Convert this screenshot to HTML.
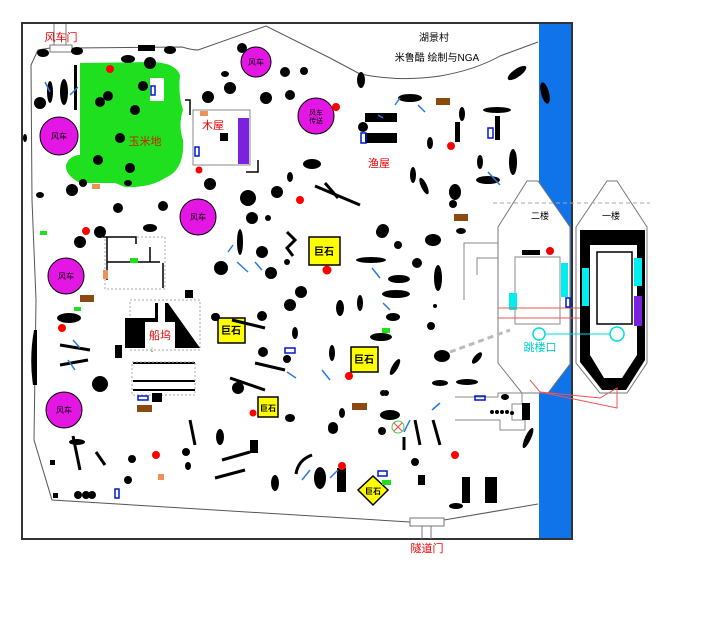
<!DOCTYPE html>
<html><head><meta charset="utf-8"><style>
html,body{margin:0;padding:0;background:#fff;width:720px;height:627px;overflow:hidden}
svg{display:block}
text{font-family:"Liberation Sans","Noto Sans CJK SC",sans-serif}
</style></head><body>
<svg width="720" height="627" viewBox="0 0 720 627" xmlns="http://www.w3.org/2000/svg">
<!-- river -->
<rect x="539" y="23" width="32" height="516" fill="#0f73ea"/>
<!-- frame -->
<rect x="22" y="23" width="550" height="516" fill="none" stroke="#333" stroke-width="2"/>
<!-- outer boundary -->
<polyline points="50,48 38,50 31,65 32,200 36,300 34,440 52,500 410,522" fill="none" stroke="#555" stroke-width="1"/>
<polyline points="444,520 538,504" fill="none" stroke="#555" stroke-width="1"/>
<path d="M72,48 L182,47 Q192,50 198,50 L266,26 L330,58 L360,74 Q400,82 440,76 Q475,70 500,56 L538,42" fill="none" stroke="#555" stroke-width="1"/>
<!-- gates -->
<rect x="50" y="45" width="22" height="7" fill="#fff" stroke="#777"/>
<line x1="54" y1="24" x2="54" y2="45" stroke="#777"/><line x1="66" y1="24" x2="66" y2="45" stroke="#777"/>
<text x="61" y="41" font-size="11" fill="#e00" text-anchor="middle">风车门</text>
<rect x="410" y="518" width="34" height="8" fill="#fff" stroke="#777"/>
<line x1="422" y1="526" x2="422" y2="539" stroke="#777"/><line x1="431" y1="526" x2="431" y2="539" stroke="#777"/>
<text x="427" y="552" font-size="11" fill="#e00" text-anchor="middle">隧道门</text>
<!-- title -->
<text x="434" y="41" font-size="10" fill="#000" text-anchor="middle">湖景村</text>
<text x="437" y="61" font-size="10" fill="#000" text-anchor="middle">米鲁酷  绘制与NGA</text>
<!-- corn field -->
<path d="M80,63 L150,62 Q175,62 180,75 Q178,95 183,110 Q178,125 183,140 Q185,170 165,178 Q150,188 125,187 L115,183 L80,183 Q65,175 66,165 Q70,155 80,155 Z" fill="#1ee01e"/>
<rect x="150" y="78" width="14" height="23" fill="#fff"/>
<text x="145" y="145" font-size="11" fill="#d02000" text-anchor="middle">玉米地</text>
<!-- wood house -->
<path d="M193,110 L250,110 L250,165 L193,165 Z" fill="#fff" stroke="#888"/>
<rect x="238" y="118" width="11" height="46" fill="#7a22dd"/>
<rect x="220" y="133" width="8" height="8" fill="#000"/>
<text x="213" y="129" font-size="11" fill="#e00" text-anchor="middle">木屋</text>
<polyline points="185,100 190,100 190,115" fill="none" stroke="#000" stroke-width="1.5"/>
<polyline points="246,172 258,172 258,160" fill="none" stroke="#000" stroke-width="1.5"/>
<!-- fishing house -->
<rect x="365" y="113" width="32" height="9" fill="#000"/>
<rect x="365" y="133" width="32" height="10" fill="#000"/>
<text x="379" y="167" font-size="11" fill="#e00" text-anchor="middle">渔屋</text>
<!-- windmills -->
<g fill="#e416e4" stroke="#000" stroke-width="1">
<circle cx="59" cy="136" r="19"/><circle cx="256" cy="62" r="15"/><circle cx="316" cy="116" r="18"/>
<circle cx="198" cy="217" r="18"/><circle cx="66" cy="276" r="18"/><circle cx="64" cy="410" r="18"/>
</g>
<g font-size="8" fill="#000" text-anchor="middle">
<text x="59" y="139">风车</text><text x="256" y="65">风车</text><text x="316" y="115" font-size="7">风车</text><text x="316" y="123" font-size="7">传送</text>
<text x="198" y="220">风车</text><text x="66" y="279">风车</text><text x="64" y="413">风车</text>
</g>
<!-- boat dock -->
<rect x="130" y="300" width="70" height="50" fill="none" stroke="#aaa" stroke-dasharray="2,2"/>
<path d="M125,318 L155,318 L155,303 L158,303 L158,322 L145,322 L145,348 L125,348 Z" fill="#000"/>
<path d="M165,303 L168,303 L200,348 L175,348 L175,322 L165,322 Z" fill="#000"/>
<text x="160" y="339" font-size="11" fill="#e00" text-anchor="middle">船坞</text>
<text x="152" y="352" font-size="9" fill="#2a2" text-anchor="middle">↓</text>
<g stroke="#000" stroke-width="2" fill="none">
<line x1="133" y1="363" x2="195" y2="363"/><line x1="133" y1="381" x2="195" y2="381"/>
<line x1="133" y1="390" x2="195" y2="390"/>
</g>
<rect x="132" y="362" width="63" height="33" fill="none" stroke="#aaa" stroke-dasharray="2,2"/>
<!-- upper-left small structure -->
<rect x="105" y="237" width="60" height="52" fill="none" stroke="#aaa" stroke-dasharray="2,2"/>
<g stroke="#000" stroke-width="1.5" fill="none">
<polyline points="103,237 136,237 136,244"/><polyline points="107,262 160,262"/><line x1="107" y1="237" x2="107" y2="280"/>
<line x1="163" y1="263" x2="163" y2="288"/><polyline points="150,247 150,262"/>
</g>
<!-- boats -->
<path d="M527,181 L538,181 L570,227 L570,364 L548,393 L522,393 L498,363 L498,227 Z" fill="#fff" stroke="#777"/>
<path d="M607,181 L617,181 L647,227 L647,363 L627,393 L600,393 L576,363 L576,227 Z" fill="#fff" stroke="#777"/>
<path d="M580,230 L645,230 L645,360 L626,390 L602,390 L580,362 Z M590,245 L590,355 L604,378 L622,378 L637,355 L637,245 Z" fill="#000" fill-rule="evenodd"/>
<rect x="597" y="252" width="35" height="72" fill="#fff" stroke="#000" stroke-width="1.5"/>
<rect x="582" y="268" width="7" height="38" fill="#0ee"/>
<rect x="634" y="258" width="8" height="28" fill="#0ee"/>
<rect x="634" y="296" width="8" height="30" fill="#7a22dd"/>
<line x1="493" y1="203" x2="650" y2="203" stroke="#aaa" stroke-dasharray="4,3"/>
<text x="540" y="219" font-size="9" fill="#000" text-anchor="middle">二楼</text>
<text x="611" y="219" font-size="9" fill="#000" text-anchor="middle">一楼</text>
<rect x="515" y="257" width="45" height="67" fill="#fff" stroke="#888"/>
<rect x="509" y="293" width="8" height="17" fill="#0ee"/>
<rect x="561" y="263" width="7" height="34" fill="#0ee"/>
<rect x="522" y="250" width="18" height="5" fill="#000"/>
<circle cx="550" cy="251" r="4" fill="#e00"/>
<line x1="498" y1="308" x2="580" y2="308" stroke="#e55"/><line x1="498" y1="318" x2="580" y2="318" stroke="#e55"/>
<polyline points="530,380 540,392 600,398 617,388 617,408 540,392" fill="none" stroke="#e55"/>
<polyline points="464,300 464,243 498,243" fill="none" stroke="#888"/>
<polyline points="477,275 477,258 498,258" fill="none" stroke="#888"/>
<circle cx="539" cy="334" r="6" fill="none" stroke="#0dd" stroke-width="1.5"/>
<line x1="545" y1="334" x2="610" y2="334" stroke="#0dd"/>
<circle cx="617" cy="334" r="7" fill="none" stroke="#0dd" stroke-width="1.5"/>
<text x="540" y="351" font-size="11" fill="#0cc" text-anchor="middle">跳楼口</text>
<line x1="450" y1="352" x2="510" y2="330" stroke="#bbb" stroke-width="3" stroke-dasharray="6,4"/>
<polyline points="455,397 498,397 498,393 522,393 522,404 512,404 512,420 525,420 525,430 500,430 500,420 455,420" fill="none" stroke="#888"/>
<!-- boulders -->
<g fill="#ff0" stroke="#000" stroke-width="1.5">
<rect x="309" y="237" width="31" height="28"/><rect x="218" y="318" width="27" height="25"/>
<rect x="351" y="347" width="27" height="25"/><rect x="258" y="397" width="20" height="20"/>
<polygon points="373,476 388,490 373,505 358,490"/>
</g>
<g font-size="10" fill="#000" text-anchor="middle" font-weight="bold">
<text x="324" y="255">巨石</text><text x="231" y="334">巨石</text><text x="364" y="363">巨石</text>
<text x="268" y="411" font-size="8">巨石</text><text x="373" y="494" font-size="8">巨石</text>
</g>
<!-- blobs -->
<g fill="#000">
<ellipse cx="43" cy="53" rx="6" ry="4"/><ellipse cx="77" cy="51" rx="6" ry="4"/><rect x="138" y="45" width="17" height="6"/>
<ellipse cx="170" cy="50" rx="6" ry="4"/><ellipse cx="128" cy="59" rx="7" ry="4"/><circle cx="150" cy="63" r="6"/>
<ellipse cx="50" cy="92" rx="3" ry="11"/><ellipse cx="64" cy="92" rx="4" ry="13"/><rect x="74" y="65" width="3" height="45"/>
<circle cx="40" cy="103" r="6"/><ellipse cx="25" cy="138" rx="2" ry="4"/>
<circle cx="108" cy="96" r="5"/><circle cx="100" cy="102" r="5"/><circle cx="135" cy="110" r="5"/><circle cx="120" cy="138" r="5"/>
<circle cx="98" cy="160" r="5"/><circle cx="130" cy="168" r="5"/><circle cx="143" cy="86" r="5"/><circle cx="83" cy="183" r="4"/>
<ellipse cx="128" cy="183" rx="4" ry="3"/><circle cx="208" cy="97" r="6"/><circle cx="230" cy="88" r="6"/><ellipse cx="225" cy="74" rx="4" ry="3"/>
<circle cx="242" cy="48" r="5"/><circle cx="266" cy="98" r="6"/><circle cx="285" cy="72" r="5"/><circle cx="304" cy="71" r="4"/><circle cx="290" cy="95" r="5"/>
<ellipse cx="312" cy="164" rx="9" ry="5"/><ellipse cx="290" cy="177" rx="3" ry="5"/><circle cx="248" cy="198" r="8"/><circle cx="277" cy="192" r="6"/>
<circle cx="252" cy="218" r="6"/><circle cx="268" cy="218" r="3"/><circle cx="210" cy="184" r="6"/><circle cx="163" cy="206" r="5"/>
<circle cx="72" cy="190" r="6"/><ellipse cx="40" cy="195" rx="4" ry="3"/><circle cx="118" cy="208" r="5"/><ellipse cx="150" cy="228" rx="7" ry="4"/>
<circle cx="100" cy="232" r="6"/><circle cx="80" cy="242" r="6"/>
<ellipse cx="240" cy="242" rx="3" ry="13"/><circle cx="262" cy="252" r="6"/><circle cx="221" cy="268" r="7"/><circle cx="271" cy="273" r="6"/>
<circle cx="287" cy="262" r="3"/><circle cx="301" cy="292" r="6"/><circle cx="290" cy="305" r="6"/><ellipse cx="340" cy="308" rx="4" ry="8"/>
<ellipse cx="360" cy="303" rx="3" ry="8"/><circle cx="382" cy="232" r="6"/><circle cx="398" cy="245" r="4"/><ellipse cx="433" cy="240" rx="8" ry="6"/>
<circle cx="417" cy="263" r="5"/><ellipse cx="438" cy="278" rx="4" ry="13"/><ellipse cx="371" cy="260" rx="15" ry="3"/>
<ellipse cx="399" cy="279" rx="11" ry="4"/><ellipse cx="396" cy="294" rx="14" ry="4"/><ellipse cx="393" cy="317" rx="7" ry="4"/>
<ellipse cx="381" cy="337" rx="11" ry="4"/><ellipse cx="442" cy="356" rx="8" ry="6"/><circle cx="431" cy="326" r="4"/><circle cx="435" cy="306" r="2"/>
<circle cx="262" cy="316" r="5"/><circle cx="216" cy="317" r="4"/><ellipse cx="295" cy="333" rx="3" ry="6"/><ellipse cx="332" cy="353" rx="3" ry="8"/>
<circle cx="287" cy="359" r="4"/><circle cx="263" cy="352" r="5"/>
<ellipse cx="69" cy="318" rx="12" ry="5"/><path d="M34,330 L37,330 L37,385 L33,385 Q29,358 34,330Z"/><circle cx="100" cy="384" r="8"/>
<ellipse cx="77" cy="442" rx="8" ry="3"/><circle cx="132" cy="459" r="4"/><circle cx="128" cy="480" r="4"/><circle cx="186" cy="452" r="4"/>
<ellipse cx="188" cy="466" rx="3" ry="4"/><ellipse cx="220" cy="437" rx="4" ry="8"/><circle cx="238" cy="388" r="6"/><circle cx="215" cy="317" r="4"/>
<ellipse cx="290" cy="418" rx="5" ry="4"/><rect x="250" y="440" width="8" height="13"/><rect x="115" y="345" width="7" height="13"/><rect x="185" y="290" width="8" height="8"/>
<circle cx="78" cy="495" r="4"/><circle cx="86" cy="495" r="4"/><circle cx="92" cy="495" r="4"/><rect x="50" y="460" width="5" height="5"/><rect x="53" y="493" width="5" height="5"/>
<rect x="152" y="393" width="10" height="9"/><circle cx="333" cy="427" r="5"/><ellipse cx="320" cy="478" rx="6" ry="11"/><ellipse cx="275" cy="483" rx="4" ry="8"/>
<ellipse cx="342" cy="413" rx="3" ry="5"/><circle cx="333" cy="429" r="5"/><ellipse cx="390" cy="415" rx="10" ry="5"/><circle cx="386" cy="393" r="3"/>
<circle cx="382" cy="431" r="4"/><rect x="337" y="468" width="9" height="24"/><rect x="418" y="475" width="7" height="10"/><circle cx="415" cy="462" r="4"/>
<rect x="462" y="477" width="8" height="26"/><rect x="485" y="477" width="12" height="26"/><ellipse cx="456" cy="506" rx="7" ry="3"/>
<ellipse cx="440" cy="383" rx="8" ry="3"/><ellipse cx="467" cy="382" rx="11" ry="3"/><ellipse cx="505" cy="397" rx="4" ry="3"/><rect x="522" y="403" width="8" height="17"/>
<ellipse cx="528" cy="438" rx="3" ry="11" transform="rotate(25 528 438)"/>
<circle cx="492" cy="412" r="2"/><circle cx="497" cy="412" r="2"/><circle cx="502" cy="412" r="2"/><circle cx="507" cy="412" r="2"/><circle cx="512" cy="413" r="2"/>
<ellipse cx="361" cy="80" rx="4" ry="8"/><ellipse cx="410" cy="98" rx="12" ry="4"/><ellipse cx="462" cy="114" rx="3" ry="7"/><ellipse cx="497" cy="110" rx="14" ry="3"/>
<rect x="495" y="116" width="5" height="24"/><ellipse cx="430" cy="143" rx="3" ry="6"/><ellipse cx="480" cy="162" rx="3" ry="7"/><ellipse cx="513" cy="162" rx="4" ry="13"/>
<ellipse cx="488" cy="180" rx="12" ry="4"/><ellipse cx="413" cy="175" rx="3" ry="8"/><ellipse cx="424" cy="186" rx="3" ry="9" transform="rotate(-25 424 186)"/>
<ellipse cx="517" cy="73" rx="11" ry="4" transform="rotate(-35 517 73)"/><ellipse cx="545" cy="93" rx="4" ry="11" transform="rotate(-15 545 93)"/>
<rect x="455" y="122" width="5" height="20"/><circle cx="363" cy="127" r="5"/><ellipse cx="455" cy="192" rx="6" ry="8"/><circle cx="453" cy="204" r="4"/>
<ellipse cx="461" cy="231" rx="5" ry="3"/><circle cx="383" cy="230" r="6"/><ellipse cx="477" cy="358" rx="3" ry="7" transform="rotate(40 477 358)"/>
<ellipse cx="395" cy="367" rx="3" ry="9" transform="rotate(30 395 367)"/><circle cx="383" cy="393" r="3"/>
</g>
<g stroke="#000" stroke-width="3" fill="none">
<line x1="315" y1="186" x2="360" y2="205"/><line x1="325" y1="183" x2="338" y2="198"/><polyline points="287,232 295,240 287,248 293,256"/>
<line x1="60" y1="345" x2="90" y2="350"/><line x1="60" y1="365" x2="88" y2="360"/><line x1="232" y1="320" x2="265" y2="328"/>
<line x1="255" y1="363" x2="285" y2="370"/><line x1="230" y1="378" x2="265" y2="390"/><line x1="190" y1="420" x2="195" y2="445"/>
<line x1="415" y1="420" x2="420" y2="445"/><line x1="433" y1="420" x2="440" y2="445"/><line x1="222" y1="460" x2="250" y2="452"/>
<line x1="215" y1="478" x2="245" y2="470"/><path d="M296,474 Q298,460 312,455"/><line x1="590" y1="215" x2="590" y2="215"/>
<polyline points="404,450 404,437"/><line x1="96" y1="452" x2="105" y2="465"/><line x1="73" y1="436" x2="80" y2="470"/>
</g>
<!-- brown/orange -->
<g fill="#8a4a10"><rect x="436" y="98" width="14" height="7"/><rect x="454" y="214" width="14" height="7"/><rect x="80" y="295" width="14" height="7"/>
<rect x="137" y="405" width="15" height="7"/><rect x="352" y="403" width="15" height="7"/><rect x="80" y="296" width="13" height="6"/></g>
<g fill="#f0905a"><rect x="92" y="184" width="8" height="5"/><rect x="200" y="111" width="8" height="5"/><rect x="103" y="270" width="5" height="9"/><rect x="158" y="474" width="6" height="6"/></g>
<!-- red dots -->
<g fill="#f00"><circle cx="110" cy="69" r="4"/><circle cx="336" cy="107" r="4"/><circle cx="199" cy="170" r="3.5"/><circle cx="86" cy="231" r="4"/>
<circle cx="300" cy="200" r="4"/><circle cx="327" cy="270" r="4.5"/><circle cx="62" cy="328" r="4"/><circle cx="451" cy="146" r="4"/>
<circle cx="349" cy="376" r="4"/><circle cx="253" cy="413" r="3.5"/><circle cx="342" cy="466" r="4"/><circle cx="455" cy="455" r="4"/><circle cx="156" cy="455" r="4"/></g>
<!-- blue rects -->
<g fill="none" stroke="#0018cc" stroke-width="1.5"><rect x="151" y="86" width="4" height="9"/><rect x="195" y="147" width="4" height="9"/>
<rect x="361" y="133" width="5" height="10"/><rect x="488" y="128" width="5" height="10"/><rect x="285" y="348" width="10" height="5"/>
<rect x="138" y="396" width="10" height="4"/><rect x="115" y="489" width="4" height="9"/><rect x="378" y="471" width="9" height="5"/>
<rect x="475" y="396" width="10" height="4"/><rect x="566" y="298" width="4" height="9"/></g>
<!-- green rects -->
<g fill="#1ee01e"><rect x="40" y="231" width="7" height="4"/><rect x="130" y="258" width="8" height="5"/><rect x="382" y="480" width="9" height="5"/><rect x="382" y="328" width="8" height="5"/><rect x="74" y="307" width="7" height="4"/></g>
<!-- blue strokes -->
<g stroke="#2a7ae0" stroke-width="1.5"><line x1="45" y1="82" x2="50" y2="92"/><line x1="70" y1="95" x2="78" y2="87"/><line x1="237" y1="262" x2="248" y2="272"/>
<line x1="255" y1="262" x2="262" y2="270"/><line x1="233" y1="245" x2="228" y2="252"/><line x1="400" y1="98" x2="395" y2="105"/><line x1="418" y1="105" x2="425" y2="112"/>
<line x1="378" y1="115" x2="383" y2="118"/><line x1="488" y1="172" x2="500" y2="185"/><line x1="372" y1="268" x2="380" y2="278"/><line x1="383" y1="303" x2="390" y2="310"/>
<line x1="322" y1="370" x2="330" y2="380"/><line x1="73" y1="340" x2="80" y2="348"/><line x1="68" y1="360" x2="75" y2="370"/><line x1="302" y1="480" x2="310" y2="470"/>
<line x1="432" y1="410" x2="440" y2="403"/><line x1="404" y1="432" x2="410" y2="420"/><line x1="330" y1="478" x2="338" y2="470"/><line x1="287" y1="372" x2="296" y2="378"/></g>
<circle cx="398" cy="427" r="6" fill="none" stroke="#4c4"/><path d="M394,423 L402,431 M402,423 L394,431" stroke="#e44"/>
</svg>
</body></html>
